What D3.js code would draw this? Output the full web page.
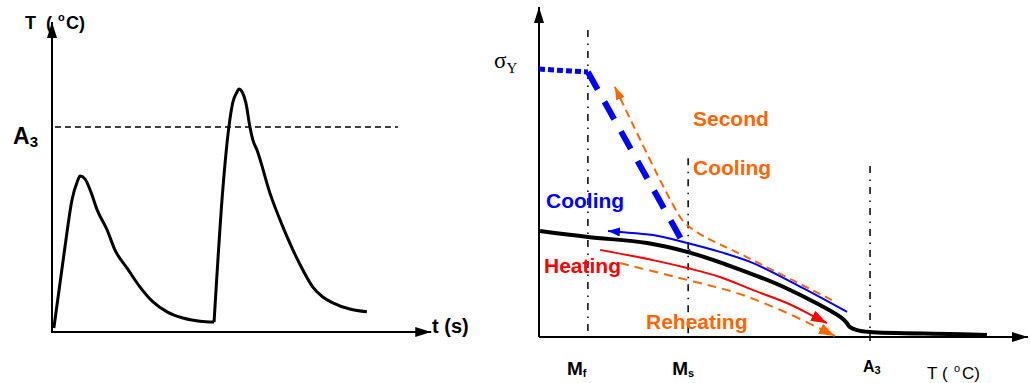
<!DOCTYPE html>
<html>
<head>
<meta charset="utf-8">
<script src="https://cdn.jsdelivr.net/npm/d3@7"></script>
<style>
  html, body { margin: 0; padding: 0; background: #fff; }
  svg { display: block; }
</style>
</head>
<body>
<svg class="chart"></svg>
<script>
// left panel: temperature history [t, T]
const firstCycle = [
  [0.05, 13], [0.35, 274], [0.54, 426], [0.68, 484], [0.76, 503], [0.89, 494],
  [1.05, 452], [1.22, 394], [1.49, 329], [1.70, 265], [2.03, 206], [2.38, 145],
  [2.73, 97], [3.11, 65], [3.54, 45], [4.00, 35], [4.38, 32],
];
const secondCycle = [
  [4.38, 32], [4.62, 465], [4.78, 661], [4.89, 742], [5.00, 774], [5.05, 784],
  [5.14, 774], [5.24, 739], [5.35, 661], [5.43, 619], [5.54, 587], [5.89, 448],
  [6.24, 339], [6.51, 265], [6.78, 200], [7.05, 145], [7.32, 113], [7.59, 94],
  [8.05, 74], [8.51, 65],
];
const a3Level = 661;

// right panel: yield stress vs temperature [T, sigma]
const transNames = ["Mf", "Ms", "A3"];
const transTemps = [100, 305, 677];
const yieldPlateau = [[0, 0.812], [100, 0.803]];
const yieldDrop = [[100, 0.803], [305, 0.258]];
const stressCurve = [
  [2, 0.321], [100, 0.303], [221, 0.285], [303, 0.258], [397, 0.212],
  [507, 0.147], [616, 0.061], [628, 0.045], [636, 0.030], [650, 0.021],
  [677, 0.015], [840, 0.009], [916, 0.006],
];
const coolingPath = [
  [630, 0.076], [540, 0.148], [438, 0.224], [370, 0.258], [303, 0.285],
  [233, 0.309], [166, 0.318], [141, 0.321],
];
const heatingPath = [
  [125, 0.264], [233, 0.233], [303, 0.209], [370, 0.182], [438, 0.142],
  [507, 0.103], [560, 0.064], [589, 0.042],
];
const reheatingPath = [
  [166, 0.224], [303, 0.173], [405, 0.133], [507, 0.073], [605, 0.003],
];
const secondCoolingPath = [
  [599, 0.112], [425, 0.242], [329, 0.312], [297, 0.348], [272, 0.406],
  [155, 0.758],
];

const ORANGE = "#ff6600";
const BLUE = "#0000ff";
const RED = "#ff0000";

const svg = d3.select(".chart").attr("width", 1030).attr("height", 383);
const defs = svg.append("defs");

const addArrow = (id, color, len, wid) => {
  defs.append("marker")
    .attr("id", id)
    .attr("viewBox", "0 0 10 10")
    .attr("preserveAspectRatio", "none")
    .attr("refX", 10)
    .attr("refY", 5)
    .attr("markerUnits", "userSpaceOnUse")
    .attr("markerWidth", len)
    .attr("markerHeight", wid)
    .attr("orient", "auto")
    .append("path")
    .attr("d", "M0,0L10,5L0,10z")
    .attr("fill", color);
};
addArrow("axisArrow", "#000", 16, 10);
addArrow("blueArrow", BLUE, 12, 9);
addArrow("redArrow", RED, 16, 11);
addArrow("orangeArrow", ORANGE, 16, 11);
addArrow("orangeSmall", ORANGE, 13, 9);

// ---------- left panel ----------
const x1 = d3.scaleLinear().domain([0, 10]).range([52, 422]);
const y1 = d3.scaleLinear().domain([0, 1000]).range([332, 22]);
const line1 = d3.line().x((d) => x1(d[0])).y((d) => y1(d[1])).curve(d3.curveMonotoneX);

const left = svg.append("g");

left.append("line")
  .attr("x1", x1(0)).attr("y1", y1(-3))
  .attr("x2", x1(0)).attr("y2", y1(1000))
  .attr("stroke", "#000").attr("stroke-width", 2)
  .attr("marker-end", "url(#axisArrow)");
left.append("line")
  .attr("x1", x1(0)).attr("y1", y1(0))
  .attr("x2", x1(10.25)).attr("y2", y1(0))
  .attr("stroke", "#000").attr("stroke-width", 2)
  .attr("marker-end", "url(#axisArrow)");

// A3 level
left.append("line")
  .attr("x1", x1(0.08)).attr("x2", x1(9.35))
  .attr("y1", y1(a3Level)).attr("y2", y1(a3Level))
  .attr("stroke", "#000").attr("stroke-width", 1.5)
  .attr("stroke-dasharray", "6,4");

left.selectAll("path.cycle")
  .data([firstCycle, secondCycle])
  .enter()
  .append("path")
  .attr("class", "cycle")
  .attr("d", line1)
  .attr("fill", "none")
  .attr("stroke", "#000")
  .attr("stroke-width", 3);

const tLabel = left.append("text")
  .attr("font-family", "Liberation Sans, Arial, sans-serif")
  .attr("font-weight", "bold")
  .attr("font-size", 18)
  .attr("y", 29);
tLabel.append("tspan").attr("x", 25).text("T");
tLabel.append("tspan").attr("x", 46).text("(");
tLabel.append("tspan").attr("x", 58).attr("dy", -8).attr("font-size", 11).text("o");
tLabel.append("tspan").attr("x", 66).attr("dy", 8).text("C)");

const a3Label = left.append("text")
  .attr("font-family", "Liberation Sans, Arial, sans-serif")
  .attr("font-weight", "bold")
  .attr("x", 13).attr("y", y1(a3Level) + 17);
a3Label.append("tspan").attr("font-size", 23).text("A");
a3Label.append("tspan").attr("font-size", 15).attr("dy", 3).text("3");

left.append("text")
  .attr("font-family", "Liberation Sans, Arial, sans-serif")
  .attr("font-weight", "bold")
  .attr("font-size", 20)
  .attr("x", 432).attr("y", 333)
  .text("t (s)");

// ---------- right panel ----------
const x2 = d3.scaleLinear().domain([0, 1000]).range([539, 1028]);
const y2 = d3.scaleLinear().domain([0, 1]).range([337, 7]);
const line2 = d3.line().x((d) => x2(d[0])).y((d) => y2(d[1]));
const smooth2 = d3.line().x((d) => x2(d[0])).y((d) => y2(d[1]))
  .curve(d3.curveCatmullRom.alpha(0.5));

const right = svg.append("g");

// transformation temperatures
const lineTops = [0.93, 0.542, 0.518];
const lineBottoms = [0.015, 0.0, -0.024];
right.selectAll("line.trans")
  .data(transTemps)
  .enter()
  .append("line")
  .attr("class", "trans")
  .attr("x1", (d) => x2(d)).attr("x2", (d) => x2(d))
  .attr("y1", (d, i) => y2(lineTops[i]))
  .attr("y2", (d, i) => y2(lineBottoms[i]))
  .attr("stroke", "#000").attr("stroke-width", 1.5)
  .attr("stroke-dasharray", "7,6.5,1.5,6");

right.append("line")
  .attr("x1", x2(0)).attr("y1", y2(0))
  .attr("x2", x2(0)).attr("y2", y2(1))
  .attr("stroke", "#000").attr("stroke-width", 2)
  .attr("marker-end", "url(#axisArrow)");
right.append("line")
  .attr("x1", x2(0)).attr("y1", y2(0))
  .attr("x2", x2(1000)).attr("y2", y2(0))
  .attr("stroke", "#000").attr("stroke-width", 2)
  .attr("marker-end", "url(#axisArrow)");

// martensite yield stress
right.append("path")
  .attr("d", line2(yieldPlateau))
  .attr("fill", "none").attr("stroke", BLUE).attr("stroke-width", 5)
  .attr("stroke-dasharray", "6,3");
right.append("path")
  .attr("d", line2(yieldDrop))
  .attr("fill", "none").attr("stroke", BLUE).attr("stroke-width", 6)
  .attr("stroke-dasharray", "20,14");

right.append("path")
  .attr("d", smooth2(stressCurve))
  .attr("fill", "none").attr("stroke", "#000").attr("stroke-width", 4);

right.append("path")
  .attr("d", smooth2(coolingPath))
  .attr("fill", "none").attr("stroke", BLUE).attr("stroke-width", 2)
  .attr("marker-end", "url(#blueArrow)");
right.append("path")
  .attr("d", smooth2(heatingPath))
  .attr("fill", "none").attr("stroke", RED).attr("stroke-width", 2)
  .attr("marker-end", "url(#redArrow)");
right.append("path")
  .attr("d", smooth2(reheatingPath))
  .attr("fill", "none").attr("stroke", ORANGE).attr("stroke-width", 2)
  .attr("stroke-dasharray", "9,6")
  .attr("marker-end", "url(#orangeArrow)");
right.append("path")
  .attr("d", smooth2(secondCoolingPath))
  .attr("fill", "none").attr("stroke", ORANGE).attr("stroke-width", 2)
  .attr("stroke-dasharray", "8,5")
  .attr("marker-end", "url(#orangeSmall)");

// labels
const sigma = right.append("text")
  .attr("font-family", "Liberation Serif, Times New Roman, serif")
  .attr("x", 494).attr("y", y2(yieldPlateau[0][1]) - 1);
sigma.append("tspan").attr("font-size", 23).text("σ");
sigma.append("tspan").attr("font-size", 15).attr("dy", 5).text("Y");

const bold = (g, x, y, size, color, txt) =>
  g.append("text")
    .attr("font-family", "Liberation Sans, Arial, sans-serif")
    .attr("font-weight", "bold")
    .attr("font-size", size)
    .attr("fill", color)
    .attr("x", x).attr("y", y)
    .text(txt);

bold(right, 693, 126, 21, ORANGE, "Second");
bold(right, 693, 175, 21, ORANGE, "Cooling");
bold(right, 546, 208, 21, BLUE, "Cooling");
bold(right, 544, 273, 21, RED, "Heating");
bold(right, 646, 329, 21, ORANGE, "Reheating");

const nameOffsets = [-21, -16, -7];
const nameSizes = [19, 19, 16];
transNames.forEach((name, i) => {
  const t = right.append("text")
    .attr("font-family", "Liberation Sans, Arial, sans-serif")
    .attr("font-weight", "bold")
    .attr("x", x2(transTemps[i]) + nameOffsets[i])
    .attr("y", i === 2 ? 372 : 375);
  t.append("tspan").attr("font-size", nameSizes[i]).text(name[0]);
  t.append("tspan").attr("font-size", 11).attr("dy", 2).text(name.slice(1));
});

const tempLabel = right.append("text")
  .attr("font-family", "Liberation Sans, Arial, sans-serif")
  .attr("font-size", 17)
  .attr("y", 379);
tempLabel.append("tspan").attr("x", 927).text("T");
tempLabel.append("tspan").attr("x", 942).text("(");
tempLabel.append("tspan").attr("x", 954).attr("dy", -7).attr("font-size", 11).text("o");
tempLabel.append("tspan").attr("x", 962).attr("dy", 7).text("C)");
</script>
</body>
</html>
